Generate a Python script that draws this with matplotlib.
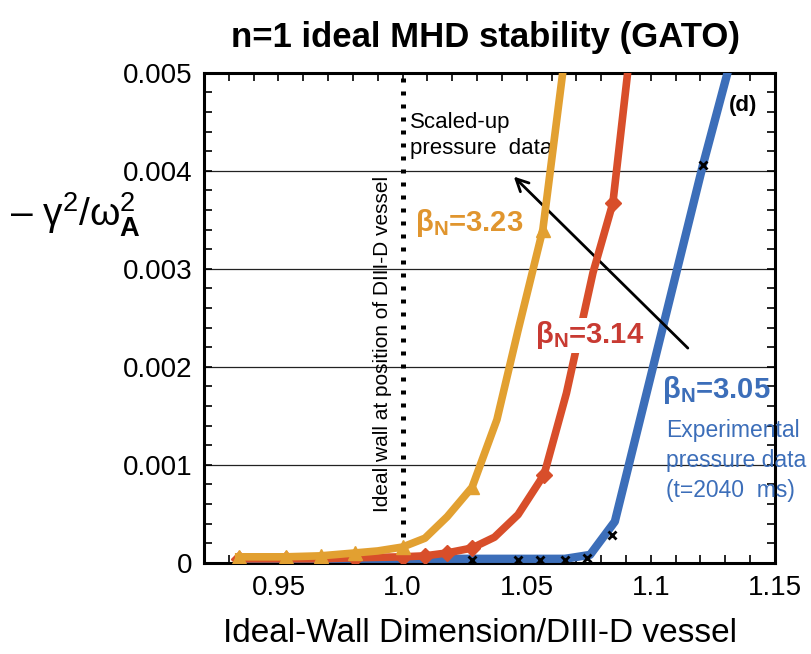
import matplotlib
matplotlib.use('Agg')
import matplotlib.pyplot as plt
from matplotlib.ticker import MultipleLocator

plt.rcParams['font.family'] = ['Liberation Sans', 'DejaVu Sans']
plt.rcParams['mathtext.fontset'] = 'custom'
plt.rcParams['mathtext.rm'] = 'Liberation Sans'
plt.rcParams['mathtext.it'] = 'Liberation Sans:italic'
plt.rcParams['mathtext.bf'] = 'Liberation Sans:bold'

# datos leidos de la figura
# beta_N = 3.23 (naranja)
x_323 = [0.934, 0.953, 0.967, 0.981, 0.990, 1.000, 1.009, 1.018, 1.028, 1.038, 1.0465, 1.0565, 1.0645, 1.066]
y_323 = [0.00006, 0.00006, 0.00007, 0.00010, 0.00012, 0.00016, 0.00025, 0.00047, 0.00077, 0.00146, 0.00237, 0.0034, 0.0050, 0.0053]
xm_323 = [0.934, 0.953, 0.967, 0.981, 1.000, 1.028, 1.0565]
ym_323 = [0.00006, 0.00006, 0.00007, 0.00010, 0.00016, 0.00077, 0.0034]

# beta_N = 3.14 (rojo)
x_314 = [0.934, 0.953, 0.967, 0.981, 1.000, 1.009, 1.018, 1.028, 1.037, 1.0465, 1.057, 1.066, 1.0767, 1.0847, 1.092]
y_314 = [0.00004, 0.00004, 0.00004, 0.00005, 0.00006, 0.00007, 0.00010, 0.00015, 0.00026, 0.00049, 0.00090, 0.00173, 0.00296, 0.00367, 0.0053]
xm_314 = [0.934, 0.953, 0.967, 0.981, 1.000, 1.009, 1.018, 1.028, 1.057, 1.0847]
ym_314 = [0.00004, 0.00004, 0.00004, 0.00005, 0.00006, 0.00007, 0.00010, 0.00015, 0.00090, 0.00367]

# beta_N = 3.05 (azul, datos experimentales)
x_305 = [0.9325, 1.028, 1.0465, 1.0553, 1.0654, 1.0755, 1.0855, 1.121, 1.133]
y_305 = [0.00004, 0.00004, 0.00004, 0.00004, 0.00004, 0.00008, 0.00042, 0.00406, 0.0052]
xm_305 = [1.028, 1.0465, 1.0553, 1.0654, 1.0743, 1.0843, 1.121]
ym_305 = [0.00003, 0.00003, 0.00003, 0.00003, 0.00005, 0.00028, 0.00406]

y_ticks = [0, 0.001, 0.002, 0.003, 0.004, 0.005]
y_labels = ['0', '0.001', '0.002', '0.003', '0.004', '0.005']
x_ticks = [0.95, 1.0, 1.05, 1.1, 1.15]
x_labels = ['0.95', '1.0', '1.05', '1.1', '1.15']

naranja = '#E2A031'
rojo = '#D84E2A'
azul = '#3C6EB9'

fig = plt.figure(figsize=(8.12, 6.54), dpi=100)
ax = fig.add_axes([0.2512, 0.1396, 0.7032, 0.7492])

# lineas de grilla horizontales
for yv in y_ticks[1:-1]:
    ax.axhline(yv, color='#222222', lw=0.9, zorder=1)

# pared ideal
ax.plot([1.0, 1.0], [0, 0.005], color='black', lw=3.6, linestyle=(0, (0.8, 1.8)), zorder=2)

ax.plot(x_305, y_305, color=azul, lw=6, solid_capstyle='butt', zorder=3)
ax.plot(xm_305, ym_305, 'x', color='black', ms=6, mew=2, zorder=6)

ax.plot(x_314, y_314, color=rojo, lw=5.5, zorder=4)
ax.plot(xm_314, ym_314, 'D', color=rojo, ms=8, zorder=4)

ax.plot(x_323, y_323, color=naranja, lw=5.5, zorder=5)
ax.plot(xm_323, ym_323, '^', color=naranja, ms=10, zorder=5)

ax.set_xlim(0.92, 1.15)
ax.set_ylim(0, 0.005)
ax.set_xticks(x_ticks)
ax.set_xticklabels(x_labels, fontsize=20)
ax.set_yticks(y_ticks)
ax.set_yticklabels(y_labels, fontsize=20)
ax.xaxis.set_minor_locator(MultipleLocator(0.01))
ax.yaxis.set_minor_locator(MultipleLocator(0.0002))
ax.tick_params(which='both', direction='in', top=True, right=True, length=6, width=1.2)
ax.tick_params(axis='x', which='major', pad=9)
ax.tick_params(axis='y', which='major', pad=8)
for s in ax.spines.values():
    s.set_linewidth(2.2)

ax.set_xlabel('Ideal-Wall Dimension/DIII-D vessel', fontsize=24)
ax.xaxis.set_label_coords(0.483, -0.112)
fig.text(0.012, 0.671, r'– γ$^{2}$/ω$^{2}_{\mathbf{A}}$', fontsize=28, ha='left', va='center')
fig.text(0.598, 0.943, 'n=1 ideal MHD stability (GATO)', fontsize=25, fontweight='bold', ha='center', va='center')

ax.text(0.992, 0.00052, 'Ideal wall at position of DIII-D vessel', rotation=90, fontsize=15,
        ha='center', va='bottom')
ax.text(1.003, 0.00436, 'Scaled-up\npressure  data', fontsize=16, ha='left', va='center', linespacing=1.35)
ax.annotate('', xy=(1.044, 0.00396), xytext=(1.1157, 0.00217),
            arrowprops=dict(arrowstyle='->', color='black', lw=2, mutation_scale=22))
ax.text(1.137, 0.00467, '(d)', fontsize=16, fontweight='bold', ha='center', va='center')

ax.text(1.005, 0.00347, r'β$_{\mathbf{N}}$=3.23', color='#E0952E', fontsize=21, fontweight='bold', va='center')
ax.text(1.0533, 0.00232, r'β$_{\mathbf{N}}$=3.14', color='#C83A32', fontsize=21, fontweight='bold', va='center',
        bbox=dict(facecolor='white', edgecolor='none', pad=1), zorder=7)
ax.text(1.1045, 0.00176, r'β$_{\mathbf{N}}$=3.05', color=azul, fontsize=21, fontweight='bold', va='center')
ax.text(1.106, 0.00147, 'Experimental\npressure data\n(t=2040  ms)', color=azul, fontsize=16.5,
        va='top', ha='left', linespacing=1.4)

fig.savefig('out.png', dpi=100)
